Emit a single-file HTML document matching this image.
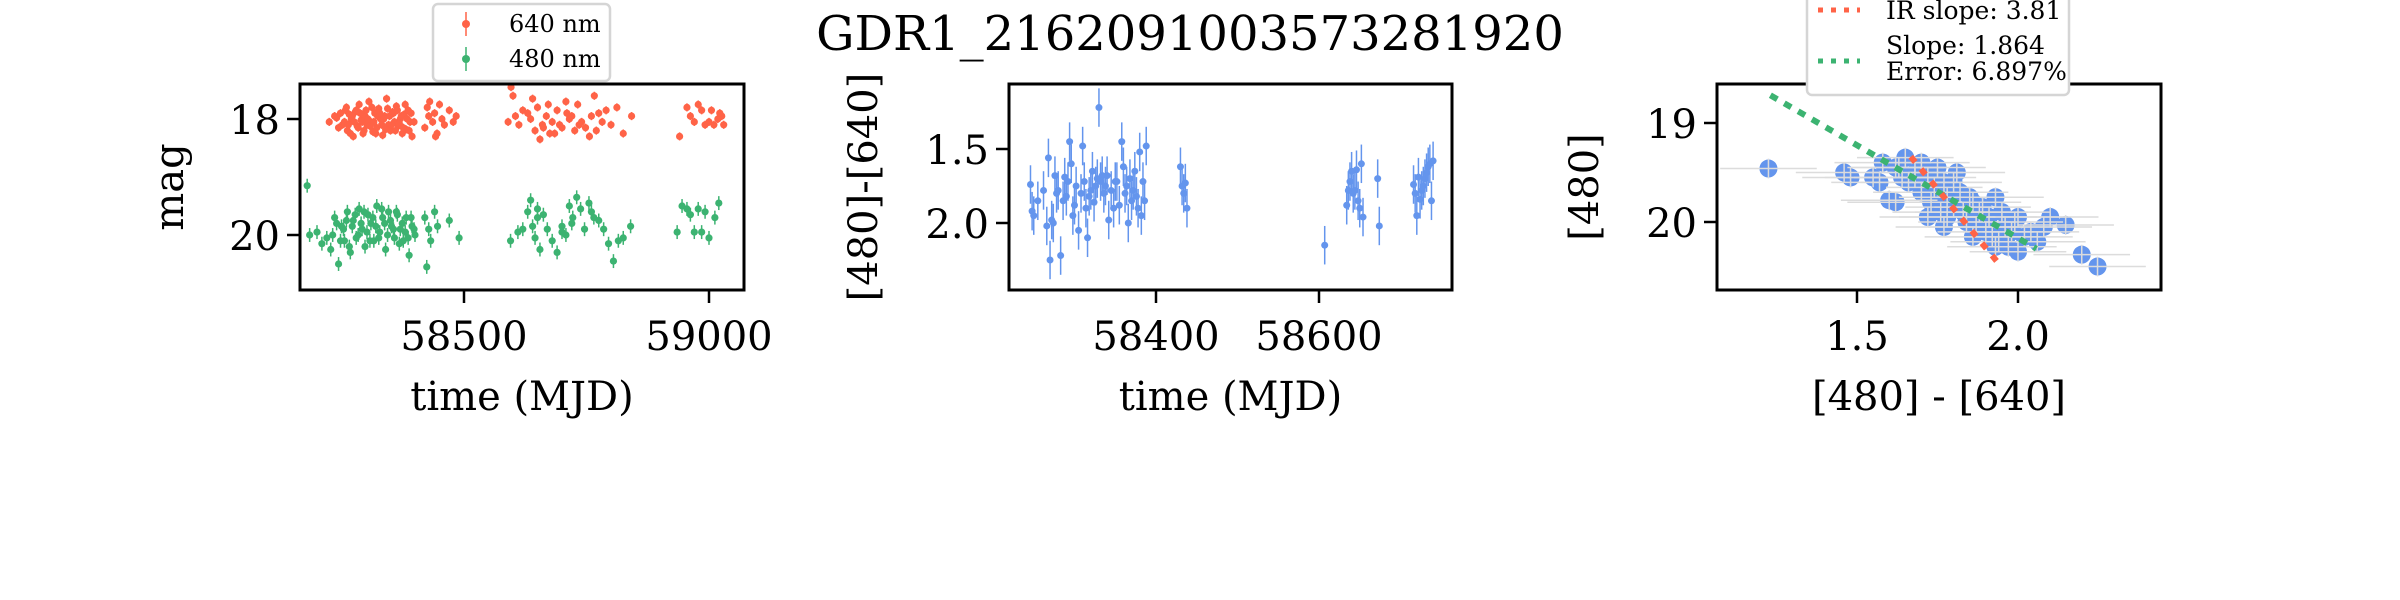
<!DOCTYPE html>
<html><head><meta charset="utf-8"><style>
html,body{margin:0;padding:0;background:#fff;}
svg{display:block;font-family:"DejaVu Serif","Liberation Serif",serif;}
</style></head><body>
<svg id="fig" width="2400" height="600" viewBox="0 0 2400 600" xmlns="http://www.w3.org/2000/svg">
<rect width="2400" height="600" fill="#fff"/>
<text x="1190" y="50" font-size="48" text-anchor="middle">GDR1_2162091003573281920</text>
<g id="p1"></g>
<g id="p2"></g>
<g id="p3"></g>
</svg>
<script>
// ---- Panel 1 data (light curves) ----
const redT = [58225,58240,58252,58258,58262,58266,58270,58274,58278,58282,58286,58290,58294,58298,58302,58306,58310,58314,58318,58322,58326,58330,58334,58338,58342,58346,58350,58354,58358,58362,58366,58370,58374,58378,58382,58386,58390,58394,58420,58425,58430,58436,58440,58445,58450,58455,58460,58470,58478,58484,58590,58596,58600,58605,58612,58620,58630,58636,58640,58645,58650,58655,58660,58668,58675,58680,58690,58700,58708,58715,58720,58726,58732,58740,58748,58756,58766,58775,58782,58790,58800,58812,58825,58842,58940,58955,58962,58970,58978,58985,58992,59000,59010,59018,59026,59030,
58236,58244,58248,58256,58260,58264,58268,58272,58276,58280,58284,58288,58292,58296,58300,58304,58308,58312,58316,58320,58324,58328,58332,58336,58340,58344,58348,58352,58356,58360,58364,58368,58372,58376,58380,58384,58388,58392,58398,58428,58442,58662,58672,58685,58695,58710,58735,58760,58770,59005,59022];
const redM = [18.05,17.98,18.1,17.85,18.2,17.92,18.0,18.3,17.88,18.12,17.75,18.02,18.25,17.95,18.1,17.7,18.05,18.22,17.9,18.15,17.82,18.0,18.28,17.95,17.65,18.1,18.2,17.88,18.05,17.78,18.12,18.0,18.25,17.92,18.18,17.85,18.05,18.3,18.15,17.8,17.7,18.05,17.9,18.25,17.75,18.0,18.1,17.85,18.05,17.95,18.05,17.45,17.6,17.95,18.1,17.85,17.9,18.0,17.65,18.2,17.8,18.35,18.1,17.95,18.25,18.05,17.85,18.15,17.7,18.0,17.95,18.2,17.75,18.05,18.15,18.3,17.6,17.9,18.05,17.85,18.1,17.8,18.25,17.95,18.3,17.8,17.95,18.05,17.75,17.85,18.1,18.05,18.1,18.0,17.95,18.1,
17.95,18.15,17.9,18.05,17.8,18.1,18.25,17.95,18.05,17.85,18.15,17.9,18.05,18.2,17.85,18.0,18.12,17.8,18.05,18.25,17.95,17.9,18.1,18.0,18.18,17.82,17.95,18.1,17.9,18.2,17.85,18.08,17.95,18.15,17.75,18.0,18.2,17.9,18.05,17.95,18.3,18.15,17.75,18.25,18.1,17.9,18.1,17.95,18.2,17.85,17.9];
const greenT = [58180,58185,58200,58210,58220,58228,58236,58244,58250,58256,58262,58268,58274,58280,58286,58292,58298,58304,58310,58316,58322,58328,58334,58340,58346,58352,58358,58364,58370,58376,58382,58388,58394,58400,58420,58424,58428,58432,58440,58446,58470,58490,58595,58610,58620,58630,58636,58640,58645,58650,58655,58662,58670,58680,58690,58700,58708,58715,58722,58730,58738,58746,58755,58765,58775,58785,58795,58805,58815,58825,58840,58935,58945,58955,58962,58970,58978,58985,58992,59000,59012,59020,
58232,58240,58248,58254,58260,58266,58272,58278,58284,58290,58296,58302,58308,58314,58320,58326,58332,58338,58344,58350,58356,58362,58368,58374,58380,58386,58392,58398,58650,58700,58720,58760];
const greenM = [19.15,20.0,19.95,20.15,20.05,20.25,19.7,20.5,19.85,20.1,19.6,20.3,19.75,20.05,19.55,19.9,20.2,19.65,19.8,20.1,19.5,19.95,19.7,20.25,19.6,19.85,20.05,19.65,19.9,20.1,19.7,20.35,19.85,20.0,19.7,20.55,19.9,20.1,19.6,19.85,19.75,20.05,20.1,19.95,19.9,19.6,19.4,19.85,20.05,19.7,20.25,19.65,19.9,20.1,20.3,19.85,20.0,19.5,19.7,19.35,19.55,19.9,19.45,19.7,19.75,19.9,20.15,20.45,20.1,20.05,19.85,19.95,19.5,19.55,19.65,19.95,19.55,19.95,19.6,20.05,19.7,19.45,
20.0,19.8,20.1,19.9,19.75,20.2,19.85,19.65,20.0,19.8,19.6,19.95,20.1,19.7,19.85,20.05,19.55,19.8,20.0,19.75,19.9,19.6,20.15,19.8,19.95,20.05,19.7,19.9,19.55,19.95,19.8,19.6];
const p1XTicks = [58500,59000];
const p1YTicks = [18,20];
// ---- Panel 2 data (color curve) ----
const colT = [58246,58248,58250,58255,58262,58266,58268,58270,58272,58274,58276,58278,58280,58283,58286,58288,58290,58292,58294,58296,58298,58300,58302,58305,58308,58310,58312,58314,58316,58318,58320,58322,58324,58326,58328,58330,58332,58334,58336,58338,58340,58342,58345,58348,58350,58352,58355,58358,58360,58362,58364,58366,58368,58370,58372,58374,58376,58378,58380,58382,58384,58386,58388,58430,58432,58434,58436,58438,58607,58634,58636,58638,58640,58642,58644,58646,58648,58650,58652,58654,58672,58674,58716,58718,58720,58722,58724,58726,58728,58730,58732,58734,58736,58738,58740];
const colV = [1.74,1.92,1.95,1.85,1.78,2.02,1.56,2.25,1.98,2.0,1.68,1.8,1.78,2.22,1.85,1.69,1.82,1.72,1.45,1.6,1.95,1.88,1.75,2.05,1.8,1.48,1.72,1.9,2.1,1.82,1.78,1.65,1.86,1.75,1.7,1.22,1.72,1.68,1.8,1.75,1.68,1.98,1.78,1.9,1.72,1.72,1.88,1.45,1.62,1.8,1.75,2.0,1.7,1.85,1.78,1.65,1.82,1.9,1.52,1.95,1.72,1.85,1.48,1.62,1.75,1.8,1.73,1.9,2.15,1.88,1.78,1.72,1.65,1.8,1.78,1.64,1.85,1.9,1.6,1.96,1.7,2.02,1.74,1.8,1.95,1.69,1.84,1.78,1.75,1.7,1.66,1.62,1.6,1.85,1.58];
const p2XTicks = [58400,58600];
const p2YTicks = [1.5,2.0];
// ---- Panel 3 data (color-magnitude) ----
const cmdX = [1.225,1.46,1.48,1.55,1.57,1.58,1.62,1.60,1.63,1.65,1.66,1.68,1.70,1.70,1.72,1.73,1.74,1.75,1.76,1.77,1.78,1.78,1.80,1.80,1.81,1.82,1.83,1.84,1.85,1.86,1.87,1.88,1.89,1.90,1.91,1.92,1.93,1.94,1.95,1.96,1.97,1.98,1.99,2.00,2.02,2.04,2.06,2.08,2.10,1.72,1.68,1.77,1.86,1.93,2.0,2.148,2.198,2.247,1.62,1.64];
const cmdY = [19.46,19.5,19.55,19.55,19.6,19.4,19.8,19.78,19.45,19.35,19.6,19.5,19.4,19.7,19.55,19.8,19.65,19.45,19.9,19.6,19.75,19.95,19.6,19.85,19.5,19.7,19.9,20.0,19.75,19.8,20.05,19.9,19.85,20.1,19.95,20.15,19.75,20.2,19.9,20.05,20.25,20.1,20.0,19.95,20.15,20.1,20.2,20.05,19.95,19.95,19.55,20.05,20.15,20.25,20.3,20.03,20.33,20.45,19.45,19.55];
const fitX = [1.231,2.057];
const fitY = [18.72,20.27];
const irX = [1.667,1.935];
const irY = [19.34,20.40];
const p3XTicks = [1.5,2.0];
const p3YTicks = [19,20];

const NS='http://www.w3.org/2000/svg';
function mk(parent,tag,attrs,txt){const e=document.createElementNS(NS,tag);for(const k in attrs)e.setAttribute(k,attrs[k]);if(txt!==undefined)e.textContent=txt;parent.appendChild(e);return e;}
function lin(d0,d1,r0,r1){return v=>r0+(v-d0)*(r1-r0)/(d1-d0);}
const RED='#ff6347',GREEN='#3cb371',BLUE='#6495ed';

function axes(g,L,T,R,B,sx,sy,xt,yt,xfmt,yfmt,xlabel,ylabel,ylx){
  for(const v of xt){const x=sx(v);
    const t=mk(g,'line',{x1:x,y1:B,x2:x,y2:B+13,stroke:'#000','stroke-width':2.5});
    
    
    const l=mk(g,'text',{x:x,y:B+60,'font-size':40,'text-anchor':'middle'},xfmt(v));
    
    
  }
  for(const v of yt){const y=sy(v);
    const t=mk(g,'line',{x1:L-13,y1:y,x2:L,y2:y,stroke:'#000','stroke-width':2.5});
    
    
    const l=mk(g,'text',{x:L-20,y:y+15,'font-size':40,'text-anchor':'end'},yfmt(v));
    
    
  }
  const f=mk(g,'rect',{x:L,y:T,width:R-L,height:B-T,fill:'none',stroke:'#000','stroke-width':3});
  
  
  const xl=mk(g,'text',{x:(L+R)/2,y:410,'font-size':40,'text-anchor':'middle'},xlabel);
  
  
  const cy=(T+B)/2;
  const yl=mk(g,'text',{x:ylx,y:cy,'font-size':40,'text-anchor':'middle',transform:`rotate(-90 ${ylx} ${cy})`},ylabel);
  
  
}
function clip(id,L,T,R,B){const d=document.getElementById('fig');const c=mk(d,'clipPath',{id:id});mk(c,'rect',{x:L,y:T,width:R-L,height:B-T});}

// Panel 1
(function(){
  const g=document.getElementById('p1');const L=300,T=84,R=744,B=290;
  const sx=lin(58500,59000,464,709), sy=lin(18,20,119,235);
  clip('c1',L,T,R,B);
  const pts=mk(g,'g',{'clip-path':'url(#c1)'});
  function series(ts,ms,col,err,name){
    const n=Math.min(ts.length,ms.length);
    for(let i=0;i<n;i++){const x=sx(ts[i]),y=sy(ms[i]);
      const e=mk(pts,'line',{x1:x,y1:sy(ms[i]-err),x2:x,y2:sy(ms[i]+err),stroke:col,'stroke-width':1.5});
      
      
      const c=mk(pts,'circle',{cx:x,cy:y,r:3.6,fill:col});
      
      
    }
  }
  series(redT,redM,RED,0.07,'640nm');
  series(greenT,greenM,GREEN,0.12,'480nm');
  axes(g,L,T,R,B,sx,sy,p1XTicks,p1YTicks,v=>String(v),v=>String(v),'time (MJD)','mag',183);
  const lg=mk(g,'g',{});
  
  
  mk(lg,'rect',{x:433,y:4,width:177,height:77,rx:5,fill:'#fff',stroke:'#d5d5d5','stroke-width':2.5});
  [[RED,'640 nm',24],[GREEN,'480 nm',59]].forEach(([c,t,y])=>{
    const e=mk(lg,'g',{});
    
    
    mk(e,'line',{x1:466,y1:y-12,x2:466,y2:y+12,stroke:c,'stroke-width':1.5});
    mk(e,'circle',{cx:466,cy:y,r:4,fill:c});
    mk(e,'text',{x:509,y:y+8,'font-size':24},t);
  });
})();

// Panel 2
(function(){
  const g=document.getElementById('p2');const L=1009,T=84,R=1452,B=290;
  const sx=lin(58400,58600,1156,1319), sy=lin(1.5,2.0,149,223);
  clip('c2',L,T,R,B);
  const pts=mk(g,'g',{'clip-path':'url(#c2)'});
  const n=Math.min(colT.length,colV.length);
  for(let i=0;i<n;i++){const x=sx(colT[i]),y=sy(colV[i]);
    const e=mk(pts,'line',{x1:x,y1:sy(colV[i]-0.13),x2:x,y2:sy(colV[i]+0.13),stroke:BLUE,'stroke-width':1.5});
    
    
    const c=mk(pts,'circle',{cx:x,cy:y,r:3.5,fill:BLUE});
    
    
  }
  axes(g,L,T,R,B,sx,sy,p2XTicks,p2YTicks,v=>String(v),v=>v.toFixed(1),'time (MJD)','[480]-[640]',877);
})();

// Panel 3
(function(){
  const g=document.getElementById('p3');const L=1717,T=84,R=2161,B=290;
  const sx=lin(1.5,2.0,1857,2018), sy=lin(19,20,123,222);
  clip('c3',L,T,R,B);
  const pts=mk(g,'g',{'clip-path':'url(#c3)'});
  const n=Math.min(cmdX.length,cmdY.length);
  for(let i=0;i<n;i++){const x=sx(cmdX[i]),y=sy(cmdY[i]);
    const c=mk(pts,'circle',{cx:x,cy:y,r:9,fill:BLUE});
    
    
  }
  for(let i=0;i<n;i++){const x=sx(cmdX[i]),y=sy(cmdY[i]);
    const e=mk(pts,'line',{x1:sx(cmdX[i]-0.15),y1:y,x2:sx(cmdX[i]+0.15),y2:y,stroke:'#dcdcdc','stroke-width':1.5});
    
    
    const v=mk(pts,'line',{x1:x,y1:sy(cmdY[i]-0.1),x2:x,y2:sy(cmdY[i]+0.1),stroke:'#dcdcdc','stroke-width':1.5});
    
    
  }
  const gl=mk(pts,'line',{x1:sx(fitX[0]),y1:sy(fitY[0]),x2:sx(fitX[1]),y2:sy(fitY[1]),stroke:GREEN,'stroke-width':6,'stroke-dasharray':'8 8'});
  
  
  const rl=mk(pts,'line',{x1:sx(irX[0]),y1:sy(irY[0]),x2:sx(irX[1]),y2:sy(irY[1]),stroke:RED,'stroke-width':6,'stroke-dasharray':'7 9'});
  
  
  axes(g,L,T,R,B,sx,sy,p3XTicks,p3YTicks,v=>v.toFixed(1),v=>String(v),'[480] - [640]','[480]',1598);
  const lg=mk(g,'g',{});
  
  
  mk(lg,'rect',{x:1807,y:-10,width:262,height:105,rx:5,fill:'#fff',stroke:'#d5d5d5','stroke-width':2.5});
  mk(lg,'line',{x1:1818,y1:10,x2:1860,y2:10,stroke:RED,'stroke-width':5,'stroke-dasharray':'5 8'});
  mk(lg,'text',{x:1886,y:19,'font-size':25},'IR slope: 3.81');
  mk(lg,'line',{x1:1818,y1:61,x2:1860,y2:61,stroke:GREEN,'stroke-width':5,'stroke-dasharray':'5 8'});
  mk(lg,'text',{x:1886,y:54,'font-size':25},'Slope: 1.864');
  mk(lg,'text',{x:1886,y:80,'font-size':25},'Error: 6.897%');
})();
</script>
</body></html>
